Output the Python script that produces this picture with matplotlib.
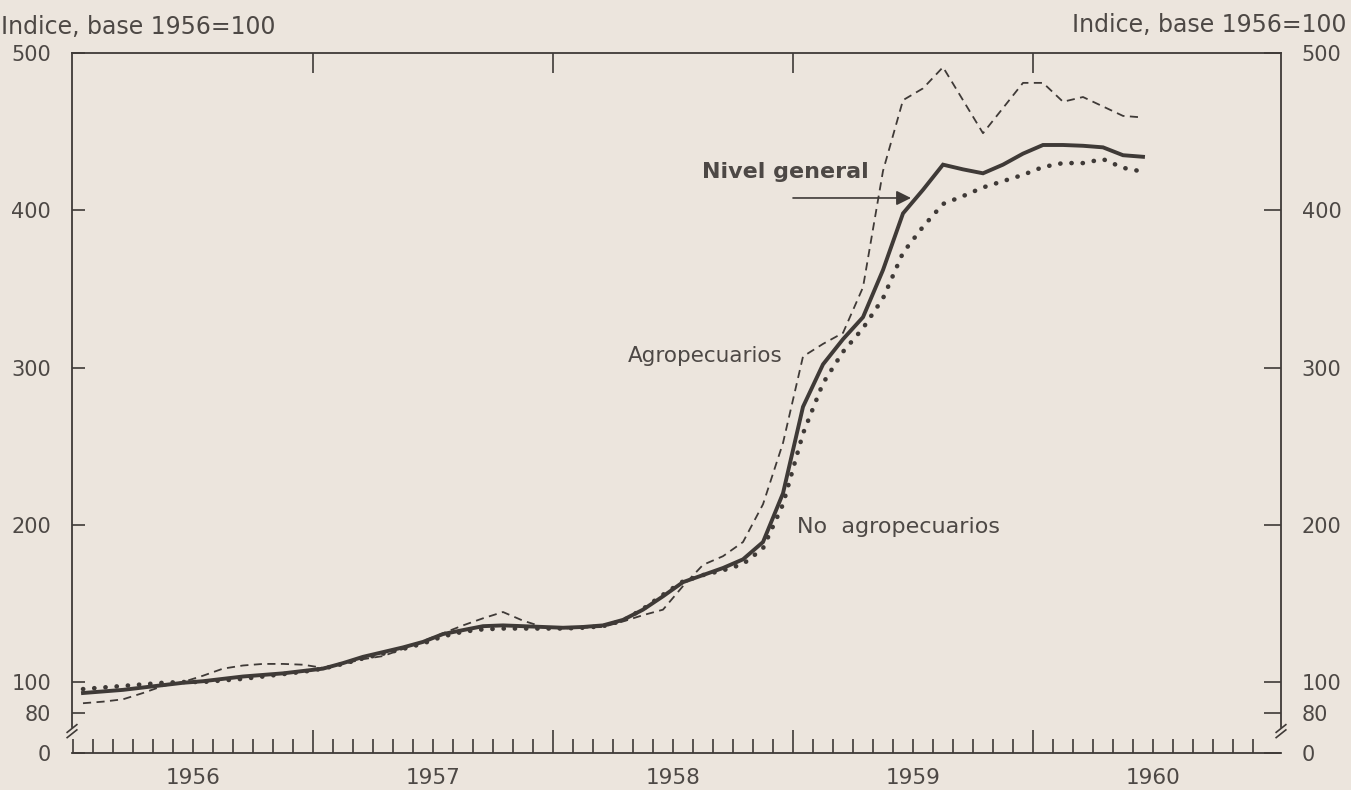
import matplotlib
matplotlib.use("Agg")
import matplotlib.pyplot as plt
import numpy as np
from matplotlib.ticker import FixedLocator

# ---- data (monthly, Jan 1956 - Jun 1960), index base 1956 = 100 ----
nivel_general = [93, 94, 95, 96.5, 98, 99.5, 100.5, 102, 103.5, 104.5, 105.5, 107,
                 108.5, 112, 116, 119, 122, 125.5, 130.5, 133, 135.5, 136, 135.5, 135,
                 134.5, 135, 136, 139.5, 146, 154.5, 163.5, 168, 172.5, 178, 189, 220,
                 275, 302, 318, 332, 362, 398, 413, 429, 426, 423.5, 429, 436,
                 441.5, 441.5, 441, 440, 435, 434]
agropecuarios = [86.5, 87.5, 89, 93, 97.5, 100, 104, 108.5, 110.5, 111.5, 111.5, 111,
                 109, 111.5, 114.5, 116.5, 121, 126, 131, 136, 140.5, 144.5, 139, 135,
                 134, 134.5, 135, 138.5, 142.5, 146, 161, 174.5, 180, 189, 213, 252,
                 307, 315, 322, 351, 425, 470, 477.5, 491, 470, 449, 465, 481,
                 481, 469, 472, 466, 460, 459]
no_agropecuarios = [95.5, 96.5, 97.5, 98.5, 99.5, 100, 100, 101, 102, 103.5, 105, 106.5,
                    108.5, 111.5, 115, 118, 121, 124.5, 129, 132, 133.5, 134, 134, 134,
                    134, 134.5, 135.5, 139, 146.5, 155.5, 164, 168, 171, 175, 185, 213,
                    258, 290, 310, 325, 344, 373, 389.5, 404, 409, 414.5, 418.5, 422.5,
                    427.5, 430, 430, 432.5, 427, 424.5]
years = ["1956", "1957", "1958", "1959", "1960"]
ytick_values = [80, 100, 200, 300, 400, 500]
ytick_labels = ["80", "100", "200", "300", "400", "500"]
axis_title = "Indice, base 1956=100"

BG = "#ece5dd"
INK = "#3f3a37"
TXT = "#4d4845"

plt.rcParams["font.family"] = ["DejaVu Sans"]

fig = plt.figure(figsize=(13.51, 7.90), dpi=100, facecolor=BG)
ax = fig.add_axes([72 / 1351, 1 - 753 / 790, (1281 - 72) / 1351, (753 - 53) / 790])
ax.set_facecolor(BG)

x = np.arange(len(nivel_general)) + 0.5

ax.plot(x, agropecuarios, color=INK, lw=1.3, linestyle=(0, (4.5, 3)))
ax.plot(x, no_agropecuarios, color=INK, lw=3.3, linestyle=(0, (0.05, 2.4)),
        dash_capstyle="round", solid_capstyle="round")
ax.plot(x, nivel_general, color=INK, lw=2.8, solid_joinstyle="miter")

ybot = 54.85
ax.set_xlim(-0.05, 60.4)
ax.set_ylim(ybot, 500)

# spines
for s in ax.spines.values():
    s.set_color(INK)
    s.set_linewidth(1.3)
ax.spines["left"].set_bounds(71.5, 500)
ax.spines["right"].set_bounds(71.5, 500)

# x ticks: months minor, years major
ax.xaxis.set_major_locator(FixedLocator([12, 24, 36, 48]))
ax.xaxis.set_minor_locator(FixedLocator([m for m in range(0, 60) if m % 12 != 0 or m == 0]))
ax.tick_params(axis="x", which="major", direction="in", length=16.5, width=1.2,
               color=INK, top=True, bottom=True, labelbottom=False)
ax.tick_params(axis="x", which="minor", direction="in", length=10, width=1.2,
               color=INK, top=False, bottom=True)
for t in ax.xaxis.get_major_ticks():
    t.tick2line.set_markersize(14.5)
for k, yr in enumerate(years):
    ax.text(6 + 12 * k, -0.036, yr, transform=ax.get_xaxis_transform(),
            ha="center", va="center", fontsize=15.5, color=TXT)

# y ticks both sides
ax.set_yticks([ybot] + ytick_values)
ax.set_yticklabels(["0"] + ytick_labels)
ax.tick_params(axis="y", direction="in", length=9, width=1.2, color=INK,
               labelsize=15, labelcolor=TXT, left=True, right=True,
               labelleft=True, labelright=True, pad=15)
for t in ax.yaxis.get_major_ticks():
    t.tick2line.set_markersize(12)

# axis break marks
for xa in (0.0, 1.0):
    for dy in (0.0, 0.0075):
        ax.plot([xa - 0.004, xa + 0.004], [0.022 + dy, 0.033 + dy],
                transform=ax.transAxes, color=INK, lw=1.2, clip_on=False)

# titles
fig.text(1 / 1351, 1 - 27 / 790, axis_title, ha="left", va="center", fontsize=17, color=TXT)
fig.text(1347 / 1351, 1 - 25 / 790, axis_title, ha="right", va="center", fontsize=17, color=TXT)

# annotations
ax.text(35.6, 424.3, "Nivel general", ha="center", va="center", fontsize=16,
        fontweight="bold", color=TXT)
ax.annotate("", xy=(41.9, 407.8), xytext=(36.0, 407.8),
            arrowprops=dict(arrowstyle="-|>", color=INK, lw=1.2, mutation_scale=22,
                            shrinkA=0, shrinkB=0))
ax.text(31.6, 307.3, "Agropecuarios", ha="center", va="center", fontsize=15.5, color=TXT)
ax.text(36.2, 198.6, "No  agropecuarios", ha="left", va="center", fontsize=16, color=TXT)

fig.savefig("out.png", dpi=100, facecolor=BG)
